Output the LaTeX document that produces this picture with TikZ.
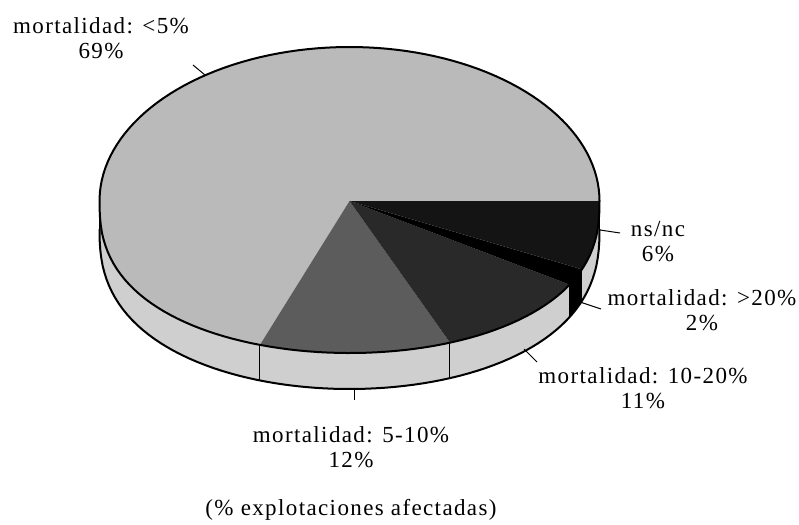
\documentclass[tikz,border=0pt]{standalone}
\usepackage{fontspec}
\setmainfont{Liberation Serif}[LetterSpace=6]
\begin{document}
\begin{tikzpicture}[x=1pt, y=-1pt,
    every node/.style={font=\fontsize{23}{25}\selectfont, align=center},
    topcol/.style={fill=black!27},
    sidecol/.style={fill=black!19},
    declare function={
        topy(\t) = (sin(\t)>0) ? 201+152*pow(abs(sin(\t)),0.8) : 201+154*sin(\t);
        boty(\t) = 229+160*pow(abs(sin(\t)),0.8);
        rimx(\t) = 349.5+250*cos(\t);
    }]
\useasboundingbox (0,0) rectangle (799,524);
% side of one slice, from angle #1 to #2
\def\pieside#1#2#3{\path[#3] plot[domain=#1:#2, samples=40] ({rimx(\x)},{topy(\x)})
    -- plot[domain=#2:#1, samples=40] ({rimx(\x)},{boty(\x)}) -- cycle;}
% top of one slice
\def\pietop#1#2#3{\path[#3] (349.5,201) -- plot[domain=#1:#2, samples=80] ({rimx(\x)},{topy(\x)}) -- cycle;}

\begin{scope}[]
    \pieside{0}{21.6}{sidecol}
    \pieside{21.6}{28.3}{fill=black}
    \pieside{28.3}{66.3}{sidecol}
    \pieside{66.3}{111}{sidecol}
    \pieside{111}{180}{sidecol}
    \pietop{111}{360}{topcol}
    \pietop{66.3}{111}{fill=black!64}
    \pietop{28.3}{66.3}{fill=black!84}
    \pietop{21.6}{28.3}{fill=black}
    \pietop{0}{21.6}{fill=black!92}
\end{scope}

\begin{scope}[]
    \coordinate (e0)  at ({rimx(0)},{topy(0)});
    \coordinate (e0b) at ({rimx(0)},{boty(0)});
    \coordinate (e1)  at ({rimx(180)},{topy(180)});
    \coordinate (e1b) at ({rimx(180)},{boty(180)});
    \coordinate (s1)  at ({rimx(28.3)},{topy(28.3)});
    \coordinate (s1b) at ({rimx(28.3)},{boty(28.3)});
    \coordinate (s2)  at ({rimx(66.3)},{topy(66.3)});
    \coordinate (s2b) at ({rimx(66.3)},{boty(66.3)});
    \coordinate (s3)  at ({rimx(111)},{topy(111)});
    \coordinate (s3b) at ({rimx(111)},{boty(111)});
    \draw[line width=2pt] plot[domain=0:360, samples=160] ({rimx(\x)},{topy(\x)}) -- cycle;
    \draw[line width=2pt] plot[domain=0:180, samples=80] ({rimx(\x)},{boty(\x)});
    \draw[line width=1.5pt] (e0) -- (e0b);
    \draw[line width=1.5pt] (e1) -- (e1b);
    \draw[line width=1pt] (s1) -- (s1b);
    \draw[line width=1pt] (s2) -- (s2b);
    \draw[line width=1pt] (s3) -- (s3b);
\end{scope}

\begin{scope}[]
    \node (lt5)  at (101,38)  {mortalidad: <5\%\\69\%};
    \node (nsnc) at (658,242) {ns/nc\\6\%};
    \node (gt20) at (702,310) {mortalidad: >20\%\\2\%};
    \node (m1020) at (643,388) {mortalidad: 10-20\%\\11\%};
    \node (m510) at (351,447) {mortalidad: 5-10\%\\12\%};
    \node (expl) at (351,510) {(\% explotaciones afectadas)};
\end{scope}

\begin{scope}[line width=1pt]
    \coordinate (k1a) at (193,65);  \coordinate (k1b) at (205,75);
    \coordinate (k2a) at (600,230); \coordinate (k2b) at (620,233);
    \coordinate (k3a) at (580,302); \coordinate (k3b) at (601,309);
    \coordinate (k4a) at (524,349); \coordinate (k4b) at (537,362);
    \coordinate (k5a) at (354,388); \coordinate (k5b) at (354,400);
    \draw (k1a) -- (k1b);
    \draw (k2a) -- (k2b);
    \draw (k3a) -- (k3b);
    \draw (k4a) -- (k4b);
    \draw (k5a) -- (k5b);
\end{scope}
\end{tikzpicture}
\end{document}
